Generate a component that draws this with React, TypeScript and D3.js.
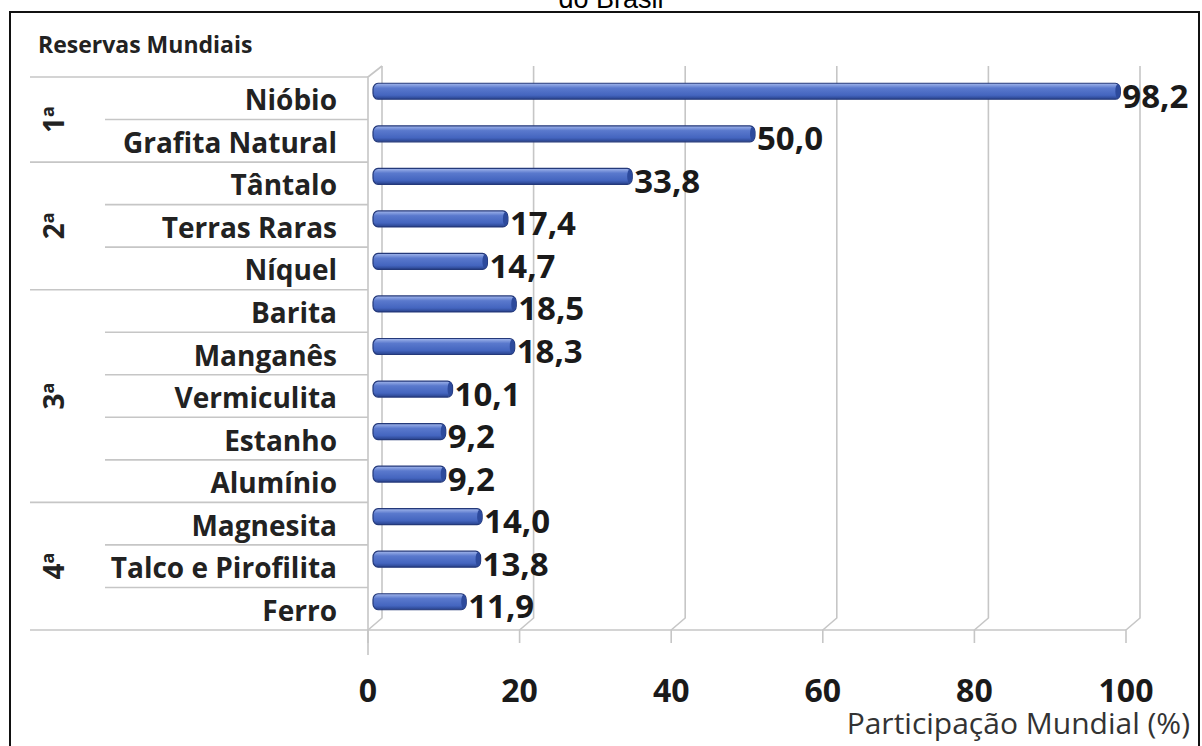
import React from 'react';
import * as d3 from 'd3';

const categories = [
  'Nióbio', 'Grafita Natural', 'Tântalo', 'Terras Raras', 'Níquel',
  'Barita', 'Manganês', 'Vermiculita', 'Estanho', 'Alumínio',
  'Magnesita', 'Talco e Pirofilita', 'Ferro',
];
const values = [98.2, 50.0, 33.8, 17.4, 14.7, 18.5, 18.3, 10.1, 9.2, 9.2, 14.0, 13.8, 11.9];
// ranking groups: label, first row, last row
const groups: [string, number, number][] = [
  ['1ª', 0, 1],
  ['2ª', 2, 4],
  ['3ª', 5, 9],
  ['4ª', 10, 12],
];
const ticks = [0, 20, 40, 60, 80, 100];

const W = 1202;
const H = 746;
const FONT = "'Open Sans', 'DejaVu Sans', sans-serif";

const App: React.FC = () => {
  const y = d3.scaleBand<string>().domain(categories).range([77, 630]).padding(0);
  const xBack = d3.scaleLinear().domain([0, 100]).range([382, 1140]);
  const xBar = d3.scaleLinear().domain([0, 100]).range([376, 1134]);
  const dx = 14; // depth offset of the 3d floor
  const floorBack = 618;
  const floorFront = 630;
  const wallTop = 66;
  const bw = y.bandwidth();
  const fmt = (v: number) => v.toFixed(1).replace('.', ',');
  const groupStarts = new Set(groups.map(g => g[1]));
  const grid = '#c6c6c6';

  return (
    <svg width={W} height={H} style={{ position: 'absolute', left: 0, top: 0, background: '#fff' }}>
      <defs>
        <linearGradient id="barGrad" x1="0" y1="0" x2="0" y2="1">
          <stop offset="0" stopColor="#a3b7ec" />
          <stop offset="0.3" stopColor="#5a79cd" />
          <stop offset="0.75" stopColor="#4465bf" />
          <stop offset="1" stopColor="#28428c" />
        </linearGradient>
      </defs>

      {/* cut-off title above the frame */}
      <text x={611} y={8} textAnchor="middle" fontFamily="'Liberation Sans', Arial, sans-serif" fontSize={27} fill="#000">do Brasil</text>

      {/* outer frame */}
      <rect x={10} y={12} width={1189} height={760} fill="none" stroke="#111" strokeWidth={2} />

      <text x={38} y={53} fontFamily={FONT} fontWeight={700} fontSize={23} fill="#222">Reservas Mundiais</text>

      {/* back wall gridlines with floor diagonals and ticks */}
      {ticks.map(t => (
        <path key={t}
          d={`M${xBack(t)},${wallTop} V${floorBack} L${xBack(t) - dx},${floorFront} V${floorFront + 13}`}
          fill="none" stroke={grid} strokeWidth={1.6} />
      ))}

      {/* left wall */}
      <path d={`M${xBack(0) - dx},${floorFront + 25} V${y(categories[0])} L${xBack(0)},${wallTop}`}
        fill="none" stroke={grid} strokeWidth={1.6} />
      <line x1={xBack(0) - dx} x2={xBack(100) - dx} y1={floorFront} y2={floorFront} stroke={grid} strokeWidth={1.6} />

      {/* row separators */}
      {categories.map((c, i) => (
        <line key={c} x1={groupStarts.has(i) ? 30 : 105} x2={xBack(0) - dx}
          y1={y(c)!} y2={y(c)!} stroke={grid} strokeWidth={1.6} />
      ))}
      <line x1={30} x2={xBack(0) - dx} y1={floorFront} y2={floorFront} stroke={grid} strokeWidth={1.6} />

      {/* group labels */}
      {groups.map(([g, a, b]) => {
        const cy = (y(categories[a])! + y(categories[b])! + bw) / 2;
        return (
          <text key={g} transform={`translate(64,${cy}) rotate(-90)`} textAnchor="middle"
            fontFamily={FONT} fontWeight={700} fontSize={28} fill="#222">{g}</text>
        );
      })}

      {/* category labels */}
      {categories.map(c => (
        <text key={c} x={337} y={y(c)! + bw / 2 + 1} textAnchor="end" dominantBaseline="central"
          fontFamily={FONT} fontWeight={700} fontSize={28} fill="#222">{c}</text>
      ))}

      {/* bars */}
      {categories.map((c, i) => {
        const cy = y(c)! + bw / 2 - 7;
        const x0 = xBar(0) - 3;
        const x1 = xBar(values[i]);
        return (
          <g key={c}>
            <rect x={x0} y={cy - 8} width={x1 - x0} height={16} rx={5} ry={6}
              fill="url(#barGrad)" stroke="#24397a" strokeWidth={1.2} />
            <ellipse cx={x1 - 2.5} cy={cy} rx={2.5} ry={7} fill="#2d4a9c" />
            <text x={x1 + 2} y={cy + 4} dominantBaseline="central" fontFamily={FONT}
              fontWeight={700} fontSize={33} fill="#1a1a1a">{fmt(values[i])}</text>
          </g>
        );
      })}

      {/* tick labels */}
      {ticks.map(t => (
        <text key={t} x={xBack(t) - dx} y={689} textAnchor="middle" dominantBaseline="central"
          fontFamily={FONT} fontWeight={700} fontSize={32} fill="#1a1a1a">{t}</text>
      ))}

      <text x={1190} y={734} textAnchor="end" fontFamily={FONT} fontSize={30} fill="#333">Participação Mundial (%)</text>
    </svg>
  );
};

export default App;
